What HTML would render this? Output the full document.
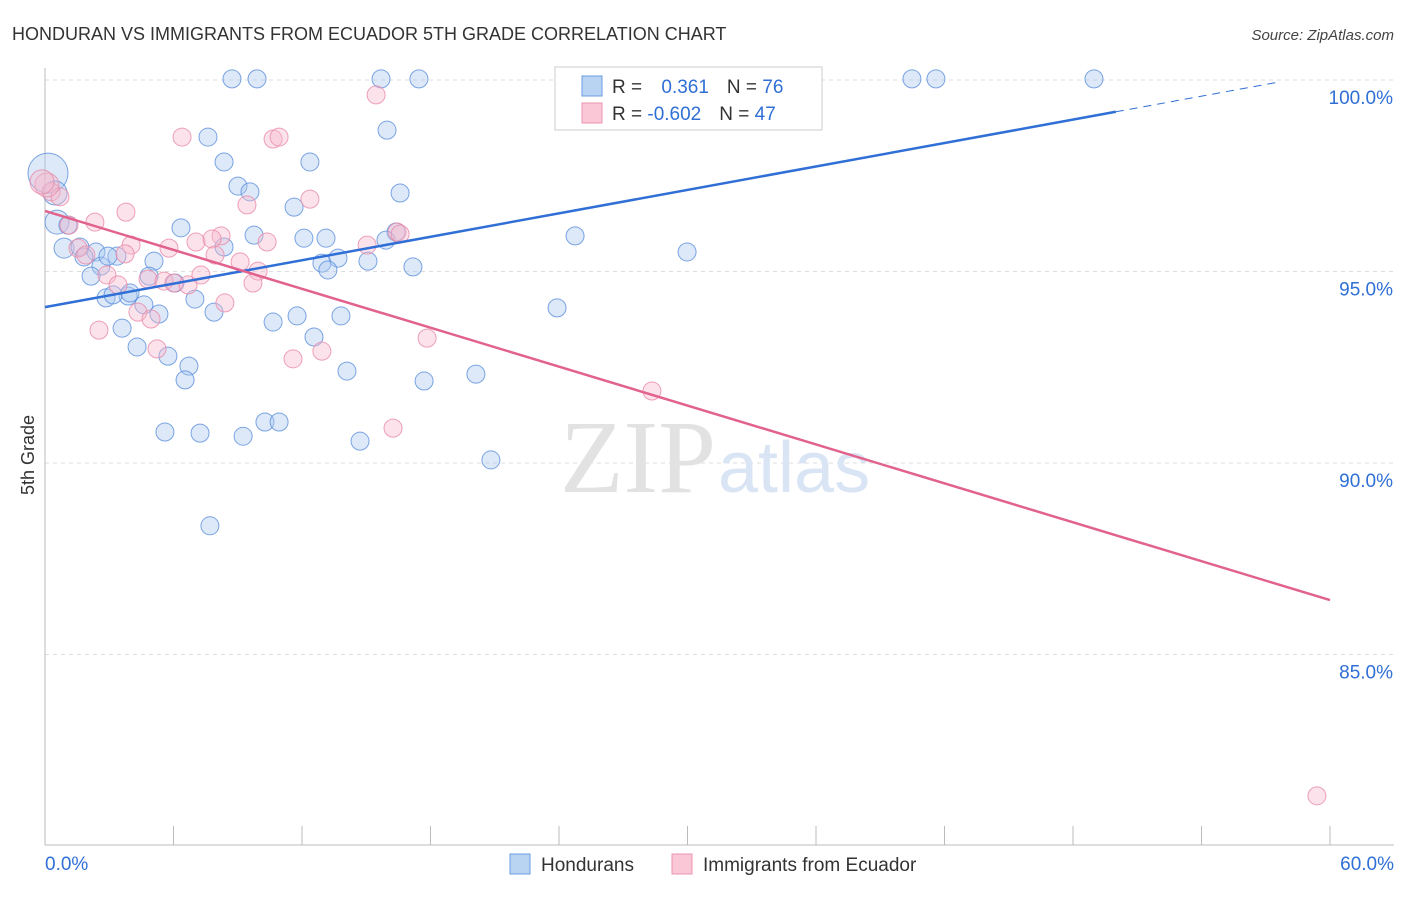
<!DOCTYPE html>
<html><head><meta charset="utf-8"><style>
body{margin:0;background:#fff;font-family:"Liberation Sans",sans-serif}
</style></head><body>
<svg width="1406" height="892" xmlns="http://www.w3.org/2000/svg" id="svg">
<text x="12" y="40" font-size="18" fill="#333">HONDURAN VS IMMIGRANTS FROM ECUADOR 5TH GRADE CORRELATION CHART</text>
<text x="1394" y="40" font-size="15" fill="#444" font-style="italic" text-anchor="end">Source: ZipAtlas.com</text>
<text x="34" y="455" font-size="18" fill="#333" transform="rotate(-90 34 455)" text-anchor="middle">5th Grade</text>
<g id="grid"></g>
<line x1="45" y1="68" x2="45" y2="845" stroke="#bbb"/>
<line x1="45" y1="845" x2="1394" y2="845" stroke="#bbb"/>
<text x="716" y="492" font-size="104" fill="#e2e2e2" text-anchor="end" font-family="Liberation Serif">ZIP</text>
<text x="718" y="492" font-size="72" fill="#d9e4f4">atlas</text>
<g id="pts"></g>
<g id="lines"></g>
<g>
<rect x="555" y="67" width="267" height="63" fill="#fff" stroke="#ccc"/>
<rect x="582" y="76" width="20" height="20" fill="#b9d3f3" stroke="#6b9be0"/>
<rect x="582" y="103" width="20" height="20" fill="#f9c7d6" stroke="#ec93ae"/>
<text x="612" y="93" font-size="19" fill="#333">R = <tspan fill="#2f6fd6" dx="14">0.361</tspan><tspan dx="18" fill="#333">N = </tspan><tspan fill="#2f6fd6">76</tspan></text>
<text x="612" y="120" font-size="19" fill="#333">R = <tspan fill="#2f6fd6" dx="0">-0.602</tspan><tspan dx="18" fill="#333">N = </tspan><tspan fill="#2f6fd6">47</tspan></text>
</g>
<g>
<rect x="510" y="854" width="20" height="20" fill="#b9d3f3" stroke="#6b9be0"/>
<text x="541" y="871" font-size="19" fill="#333">Hondurans</text>
<rect x="672" y="854" width="20" height="20" fill="#f9c7d6" stroke="#ec93ae"/>
<text x="703" y="871" font-size="19" fill="#333">Immigrants from Ecuador</text>
</g>
<text x="45" y="870" font-size="19" fill="#2f6fd6">0.0%</text>
<text x="1394" y="870" font-size="19" fill="#2f6fd6" text-anchor="end">60.0%</text>
</svg>
<script>
const yTicks=[100,95,90,85];
const yTickLabels=["100.0%","95.0%","90.0%","85.0%"];
const xTicks=[0,6,12,18,24,30,36,42,48,54,60];
const blueX=[232,257,381,419,580,651,912,936,1094,208,387,224,310,238,250,400,294,181,254,396,386,575,304,326,224,64,80,96,687,117,84,154,338,368,322,413,328,101,91,149,175,106,128,195,144,557,159,214,122,273,297,341,314,137,168,189,347,185,424,476,265,279,165,200,243,360,491,210,48,55,57,68,113,130,108].map(p=>+((p-45)/1285*60).toFixed(2));
const blueY=[79,79,79,79,79,79,79,79,79,137,130,162,162,186,192,193,207,228,235,232,240,236,238,238,247,248,247,252,252,256,257,261,258,261,263,267,270,266,276,276,283,298,296,299,305,308,314,312,328,322,316,316,337,347,356,366,371,380,381,374,422,422,432,433,436,441,460,526,173,193,222,225,295,293,256].map(p=>+(100-(p-80)/38.3).toFixed(2));
const blueR=[9,9,9,9,9,9,9,9,9,9,9,9,9,9,9,9,9,9,9,9,9,9,9,9,9,10,9,9,9,9,9,9,9,9,9,9,9,9,9,9,9,9,9,9,9,9,9,9,9,9,9,9,9,9,9,9,9,9,9,9,9,9,9,9,9,9,9,9,20,12,12,9,9,9,9];
const pinkX=[376,182,273,279,310,247,126,95,69,51,60,78,86,131,169,221,196,212,267,367,397,400,240,215,258,148,164,174,188,201,107,118,225,253,138,151,99,157,293,322,427,652,393,1317,47,42,125].map(p=>+((p-45)/1285*60).toFixed(2));
const pinkY=[95,137,139,137,199,205,212,222,225,192,197,248,255,245,248,236,242,239,242,245,232,234,262,255,271,279,281,283,285,275,275,285,303,283,312,319,330,349,359,351,338,391,428,796,185,182,254].map(p=>+(100-(p-80)/38.3).toFixed(2));
const blueLine=[0,94.07,50,99.17];
const pinkLine=[0,96.58,60,86.42];
const sx=v=>45+v/60*1285, sy=v=>80+(100-v)*38.3;
const NS="http://www.w3.org/2000/svg";
const grid=document.getElementById('grid');
yTicks.forEach((t,i)=>{
 const l=document.createElementNS(NS,'line');
 l.setAttribute('x1',45);l.setAttribute('x2',1394);l.setAttribute('y1',sy(t));l.setAttribute('y2',sy(t));
 l.setAttribute('stroke','#ddd');l.setAttribute('stroke-dasharray','4 4');
 
 
 grid.appendChild(l);
 const tx=document.createElementNS(NS,'text');
 tx.setAttribute('x',1393);tx.setAttribute('y',sy(t)+24);tx.setAttribute('text-anchor','end');
 tx.setAttribute('font-size','19');tx.setAttribute('fill','#2f6fd6');tx.textContent=yTickLabels[i];
 
 
 grid.appendChild(tx);
});
xTicks.forEach(t=>{
 const l=document.createElementNS(NS,'line');
 l.setAttribute('x1',sx(t));l.setAttribute('x2',sx(t));l.setAttribute('y1',826);l.setAttribute('y2',845);
 l.setAttribute('stroke','#bbb');
 
 
 grid.appendChild(l);
});
const pts=document.getElementById('pts');
function dot(x,y,r,fill,stroke,name){
 const c=document.createElementNS(NS,'circle');
 c.setAttribute('cx',sx(x));c.setAttribute('cy',sy(y));c.setAttribute('r',r);
 c.setAttribute('fill',fill);c.setAttribute('fill-opacity','0.4');c.setAttribute('stroke',stroke);c.setAttribute('stroke-width','1');c.setAttribute('stroke-opacity','0.8');
 
 
 pts.appendChild(c);
}
blueX.forEach((x,i)=>dot(x,blueY[i],blueR[i],'#a9c8f0','#5b8fdc','honduran-point'));
pinkX.forEach((x,i)=>dot(x,pinkY[i],(i>=44&&i<=45)?12:9,'#f7b9cc','#e98aa8','ecuador-point'));
const lines=document.getElementById('lines');
function ln(x1,y1,x2,y2,color,dash,name){
 const l=document.createElementNS(NS,'line');
 l.setAttribute('x1',sx(x1));l.setAttribute('y1',sy(y1));l.setAttribute('x2',sx(x2));l.setAttribute('y2',sy(y2));
 l.setAttribute('stroke',color);l.setAttribute('stroke-width',dash?1:2.5);
 if(dash)l.setAttribute('stroke-dasharray','8 6');
 
 
 lines.appendChild(l);
}
const bs=(blueLine[3]-blueLine[1])/(blueLine[2]-blueLine[0]);
ln(blueLine[0],blueLine[1],blueLine[2],blueLine[3],'#2f6fd6',false,'honduran-trendline');
ln(blueLine[2],blueLine[3],57.7,blueLine[1]+bs*57.7,'#2f6fd6',true,'honduran-trendline-extension');
ln(pinkLine[0],pinkLine[1],pinkLine[2],pinkLine[3],'#e2628e',false,'ecuador-trendline');
</script>
</body></html>
